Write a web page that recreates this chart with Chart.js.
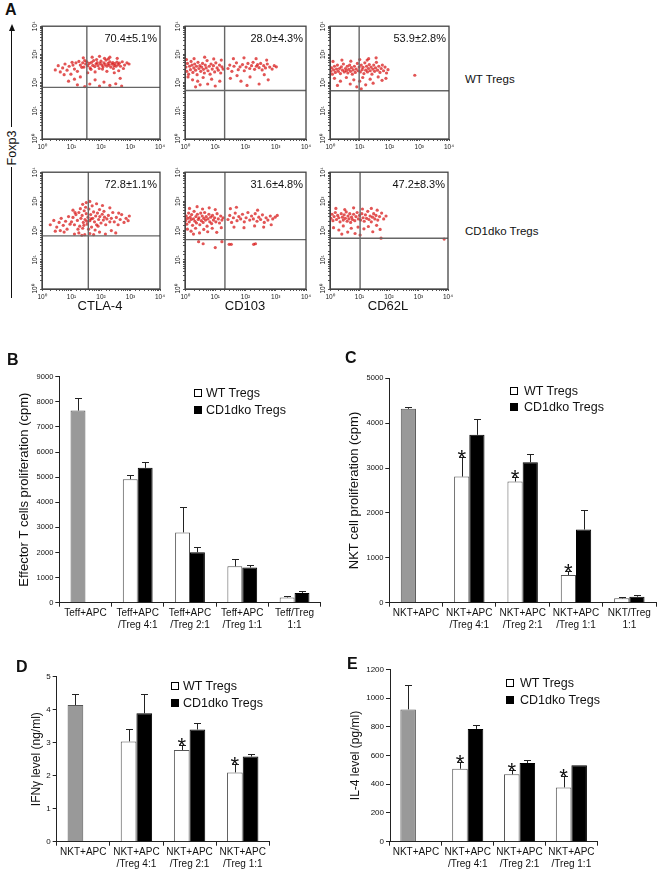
<!DOCTYPE html>
<html>
<head>
<meta charset="utf-8">
<title>Treg phenotype and suppression</title>
<script src="https://cdn.jsdelivr.net/npm/chart.js"></script>
<style>
  body { margin: 0; background: #fff; }
  #fig { position: relative; width: 662px; height: 872px; overflow: hidden;
         font-family: "Liberation Sans", Arial, sans-serif; color: #111; }
  #fig canvas { position: absolute; }
  .t { position: absolute; white-space: nowrap; line-height: 1; }
  .sq { position: absolute; width: 8px; height: 8px; box-sizing: border-box; border: 1px solid #000; }
</style>
</head>
<body>
<div id="fig"></div>
<script>
var FONT = '"Liberation Sans", Arial, sans-serif';

// ---------- panel A (flow cytometry, log10 fluorescence) ----------
var markers = ['CTLA-4', 'CD103', 'CD62L'];
var groups = ['WT Tregs', 'CD1dko Tregs'];
var pctLabels = ['70.4±5.1%', '28.0±4.3%', '53.9±2.8%', '72.8±1.1%', '31.6±4.8%', '47.2±8.3%'];
var gateX = [1.52, 1.31, 0.98, 1.57, 1.32, 1.02];
var gateY = [1.83, 1.72, 1.71, 1.82, 1.69, 1.74];

var wtCTLA4 = [
  [1.30,2.62],[1.38,2.70],[1.42,2.55],[1.48,2.66],[1.52,2.74],[1.55,2.60],[1.60,2.68],[1.63,2.52],[1.68,2.72],[1.72,2.61],
  [1.75,2.78],[1.79,2.57],[1.83,2.66],[1.87,2.71],[1.90,2.60],[1.94,2.50],[1.97,2.68],[2.00,2.76],[2.03,2.62],[2.07,2.56],
  [2.10,2.70],[2.14,2.64],[2.17,2.80],[2.20,2.58],[2.24,2.68],[2.27,2.62],[2.30,2.74],[2.33,2.55],[2.37,2.66],[2.40,2.71],
  [2.44,2.60],[2.47,2.67],[2.51,2.58],[2.54,2.73],[2.58,2.64],[2.62,2.69],[2.66,2.58],[1.45,2.78],[1.85,2.82],[2.25,2.84],
  [2.05,2.48],[1.66,2.47],[2.42,2.50],[1.35,2.54],[2.12,2.86],
  [0.45,2.45],[0.55,2.60],[0.62,2.38],[0.70,2.52],[0.78,2.66],[0.85,2.44],[0.92,2.58],[0.98,2.30],[1.05,2.62],[1.10,2.48],
  [1.15,2.70],[1.20,2.40],[1.25,2.75],[1.02,2.72],[0.75,2.28],[1.40,2.88],[1.70,2.90],[1.95,2.93],[2.30,2.90],[2.55,2.86],
  [2.72,2.74],[2.80,2.62],[2.88,2.70],[2.95,2.66],[2.76,2.50],[2.60,2.42],[1.55,2.35],[1.80,2.38],[2.20,2.40],[2.45,2.35],
  [0.90,2.05],[1.10,2.12],[1.30,2.20],[1.45,1.86],[1.62,1.95],[1.80,2.10],[1.95,1.88],[2.10,2.02],[2.30,1.90],[2.50,1.96],
  [2.65,2.15],[2.70,1.88],[1.20,1.92]
];
var wtCD103 = [
  [0.03,2.55],[0.06,2.40],[0.08,2.68],[0.12,2.30],[0.15,2.58],[0.18,2.46],[0.20,2.75],[0.23,2.62],[0.26,2.36],[0.29,2.52],
  [0.32,2.66],[0.35,2.44],[0.38,2.58],[0.40,2.28],[0.43,2.72],[0.46,2.50],[0.49,2.60],[0.52,2.40],[0.55,2.55],[0.58,2.68],
  [0.61,2.47],[0.64,2.34],[0.67,2.62],[0.70,2.52],[0.73,2.78],[0.76,2.42],[0.80,2.58],[0.83,2.30],[0.86,2.66],[0.90,2.48],
  [0.94,2.60],[0.98,2.38],[1.02,2.70],[1.06,2.52],[1.10,2.44],[1.14,2.62],[1.18,2.34],[1.22,2.56],[1.26,2.48],
  [0.10,2.20],[0.25,2.10],[0.42,2.05],[0.60,2.18],[0.75,1.95],[0.88,2.12],[1.00,1.88],[1.15,2.05],[0.35,1.85],[0.50,1.92],
  [0.65,2.90],[0.30,2.85],[0.95,2.84],[1.20,2.80],[0.05,2.82],
  [1.42,2.50],[1.48,2.62],[1.55,2.40],[1.62,2.58],[1.70,2.70],[1.76,2.46],[1.82,2.56],[1.90,2.64],[1.96,2.42],[2.02,2.55],
  [2.08,2.68],[2.14,2.50],[2.20,2.60],[2.25,2.72],[2.30,2.47],[2.36,2.58],[2.40,2.64],[2.45,2.53],[2.50,2.68],[2.55,2.45],
  [2.60,2.60],[2.66,2.52],[2.72,2.66],[2.80,2.55],[2.88,2.48],[2.95,2.60],[3.02,2.56],
  [1.60,2.85],[1.95,2.88],[2.35,2.85],[2.70,2.80],[1.50,2.15],[1.85,2.05],[2.15,2.20],[2.45,1.95],[2.75,2.10],[2.62,2.28],
  [1.72,2.25],[2.05,1.90]
];
var wtCD62L = [
  [0.02,2.40],[0.05,2.52],[0.08,2.30],[0.12,2.45],[0.15,2.58],[0.18,2.36],[0.22,2.48],[0.25,2.62],[0.28,2.40],[0.32,2.50],
  [0.35,2.32],[0.38,2.56],[0.42,2.44],[0.45,2.66],[0.48,2.38],[0.52,2.50],[0.55,2.42],[0.58,2.58],[0.60,2.34],[0.63,2.47],
  [0.66,2.62],[0.69,2.40],[0.72,2.53],[0.75,2.30],[0.78,2.45],[0.82,2.58],[0.85,2.36],[0.88,2.48],[0.92,2.68],[0.95,2.42],
  [0.98,2.55],[1.02,2.38],[1.05,2.62],[1.08,2.46],[1.11,2.54],[1.14,2.32],[1.17,2.70],[1.20,2.44],[1.23,2.58],[1.26,2.38],
  [1.29,2.50],[1.32,2.64],[1.35,2.42],[1.38,2.55],[1.41,2.30],[1.44,2.48],[1.47,2.62],[1.50,2.40],[1.53,2.52],[1.56,2.72],
  [1.60,2.44],[1.64,2.58],[1.68,2.36],[1.72,2.50],[1.76,2.62],[1.80,2.42],[1.85,2.55],[1.90,2.34],[1.95,2.46],
  [0.10,2.75],[0.40,2.80],[0.70,2.76],[1.00,2.82],[1.30,2.85],[1.55,2.88],[1.25,2.80],
  [0.15,2.15],[0.35,2.05],[0.55,2.18],[0.68,1.95],[0.80,2.10],[0.90,1.85],[1.00,2.05],[1.10,2.18],[1.20,1.92],[1.35,2.12],
  [1.45,1.98],[1.62,2.20],[1.75,2.08],[1.88,2.15],[0.25,1.90],[1.05,1.78],
  [2.85,2.26]
];
var koCTLA4 = [
  [1.00,2.30],[1.05,2.45],[1.10,2.20],[1.15,2.55],[1.20,2.35],[1.25,2.62],[1.28,2.15],[1.32,2.42],[1.36,2.52],[1.40,2.28],
  [1.43,2.68],[1.46,2.38],[1.50,2.58],[1.53,2.22],[1.56,2.46],[1.59,2.74],[1.62,2.34],[1.65,2.55],[1.68,2.12],[1.72,2.42],
  [1.75,2.64],[1.78,2.30],[1.82,2.50],[1.85,2.20],[1.88,2.60],[1.92,2.38],[1.96,2.48],[2.00,2.26],[2.04,2.56],[2.08,2.36],
  [2.12,2.46],[2.16,2.20],[2.20,2.40],[2.25,2.52],[2.30,2.30],[2.35,2.42],[1.38,2.08],[1.58,2.05],[1.80,2.02],[1.48,2.80],
  [1.70,2.85],[1.30,2.75],[1.95,2.72],[1.12,2.62],[2.10,2.66],[1.22,2.05],[1.42,2.18],[1.66,2.40],[1.52,2.32],[1.90,2.15],
  [0.28,2.20],[0.40,2.35],[0.50,2.12],[0.58,2.28],[0.65,2.42],[0.72,2.18],[0.80,2.32],[0.85,2.05],[0.90,2.48],[0.95,2.22],
  [0.62,2.00],[0.75,1.95],[0.45,1.98],
  [2.45,2.30],[2.52,2.45],[2.58,2.20],[2.65,2.38],[2.70,2.55],[2.78,2.28],[2.85,2.42],[2.92,2.34],[2.96,2.50],[2.60,2.60],
  [2.40,2.62],[1.50,2.96],[1.62,3.00],[1.38,2.90],[1.85,2.92],[2.05,2.86],[2.30,2.78],[1.05,2.70],
  [1.10,1.88],[1.25,1.92],[1.45,1.86],[1.62,1.90],[1.75,1.86],[1.95,1.95],[2.15,1.88],[2.35,2.00],[2.50,1.92],[1.35,1.84]
];
var koCD103 = [
  [0.02,2.35],[0.04,2.50],[0.06,2.22],[0.09,2.42],[0.12,2.60],[0.14,2.30],[0.17,2.46],[0.20,2.38],[0.22,2.55],[0.25,2.18],
  [0.28,2.40],[0.30,2.66],[0.33,2.32],[0.36,2.48],[0.38,2.26],[0.41,2.56],[0.44,2.38],[0.46,2.44],[0.49,2.20],[0.52,2.60],
  [0.54,2.34],[0.57,2.50],[0.60,2.28],[0.62,2.42],[0.65,2.62],[0.68,2.36],[0.70,2.48],[0.73,2.15],[0.76,2.40],[0.79,2.56],
  [0.82,2.30],[0.85,2.46],[0.88,2.24],[0.91,2.52],[0.94,2.36],[0.98,2.44],[1.02,2.30],[1.06,2.58],[1.10,2.40],[1.14,2.26],
  [1.18,2.50],[1.22,2.36],[1.26,2.44],
  [0.08,2.05],[0.20,1.98],[0.35,2.08],[0.48,1.92],[0.62,2.04],[0.75,1.96],[0.90,2.08],[1.05,1.94],[1.20,2.10],[0.15,2.76],
  [0.40,2.82],[0.58,2.74],[0.80,2.78],[1.00,2.72],[0.28,1.88],
  [1.42,2.38],[1.48,2.52],[1.54,2.28],[1.60,2.44],[1.66,2.60],[1.72,2.34],[1.78,2.48],[1.84,2.40],[1.90,2.56],[1.96,2.30],
  [2.02,2.44],[2.08,2.62],[2.14,2.36],[2.20,2.50],[2.26,2.40],[2.32,2.58],[2.38,2.32],[2.44,2.46],[2.50,2.38],[2.56,2.54],
  [2.62,2.28],[2.68,2.44],[2.74,2.36],[2.82,2.50],[2.90,2.40],[2.98,2.46],[3.05,2.52],
  [1.50,2.75],[1.70,2.80],[2.40,2.70],[1.62,2.12],[1.95,2.10],[2.30,2.16],[2.60,2.12],[2.85,2.20],
  [1.46,1.53],[1.53,1.53],[2.27,1.53],[2.33,1.55],[0.60,1.55],[1.00,1.42],[1.22,1.62],[0.45,1.62]
];
var koCD62L = [
  [0.03,2.42],[0.07,2.56],[0.10,2.34],[0.14,2.48],[0.18,2.62],[0.22,2.38],[0.26,2.52],[0.30,2.44],[0.34,2.30],[0.38,2.58],
  [0.42,2.46],[0.45,2.36],[0.48,2.54],[0.52,2.42],[0.55,2.64],[0.58,2.32],[0.61,2.50],[0.64,2.40],[0.67,2.58],[0.70,2.28],
  [0.73,2.46],[0.76,2.38],[0.80,2.56],[0.84,2.34],[0.88,2.48],[0.92,2.62],[0.96,2.40],[1.00,2.52],
  [1.04,2.36],[1.08,2.58],[1.12,2.44],[1.16,2.32],[1.20,2.54],[1.24,2.42],[1.28,2.66],[1.32,2.38],[1.36,2.50],[1.40,2.30],
  [1.44,2.46],[1.48,2.58],[1.52,2.40],[1.56,2.52],[1.62,2.36],[1.68,2.48],[1.75,2.60],[1.82,2.40],[1.90,2.50],
  [0.20,2.76],[0.50,2.72],[0.80,2.78],[1.10,2.74],[1.40,2.76],[1.60,2.70],
  [0.12,2.10],[0.30,2.02],[0.45,2.16],[0.60,1.95],[0.72,2.08],[0.85,1.90],[0.95,2.12],[1.02,1.85],[1.15,2.06],[1.30,2.14],
  [1.45,1.96],[1.58,2.18],[1.70,2.04],[0.40,1.88],
  [1.73,1.74],[3.87,1.71]
];

// ---------- panel B: effector T cell proliferation (cpm) ----------
var catsB = [['Teff+APC'], ['Teff+APC', '/Treg 4:1'], ['Teff+APC', '/Treg 2:1'], ['Teff+APC', '/Treg 1:1'], ['Teff/Treg', '1:1']];
var ctrlB = [7650, null, null, null, null];
var ctrlErrB = [500, 0, 0, 0, 0];
var wtB = [null, 4920, 2800, 1450, 210];
var wtErrB = [0, 180, 1030, 300, 60];
var koB = [null, 5370, 2010, 1400, 390];
var koErrB = [0, 250, 190, 100, 80];
var starsB = [0, 0, 0, 0, 0];

// ---------- panel C: NKT cell proliferation (cpm) ----------
var catsC = [['NKT+APC'], ['NKT+APC', '/Treg 4:1'], ['NKT+APC', '/Treg 2:1'], ['NKT+APC', '/Treg 1:1'], ['NKT/Treg', '1:1']];
var ctrlC = [4320, null, null, null, null];
var ctrlErrC = [30, 0, 0, 0, 0];
var wtC = [null, 2810, 2700, 617, 97];
var wtErrC = [0, 440, 110, 100, 25];
var koC = [null, 3740, 3130, 1630, 134];
var koErrC = [0, 350, 185, 430, 30];
var starsC = [0, 1, 1, 1, 0];

// ---------- panel D: IFNγ (ng/ml) ----------
var catsD = [['NKT+APC'], ['NKT+APC', '/Treg 4:1'], ['NKT+APC', '/Treg 2:1'], ['NKT+APC', '/Treg 1:1']];
var ctrlD = [4.14, null, null, null];
var ctrlErrD = [0.33, 0, 0, 0];
var wtD = [null, 3.04, 2.78, 2.10];
var wtErrD = [0, 0.38, 0.15, 0.25];
var koD = [null, 3.89, 3.40, 2.58];
var koErrD = [0, 0.60, 0.19, 0.09];
var starsD = [0, 0, 1, 1];

// ---------- panel E: IL-4 (pg/ml) ----------
var catsE = catsD;
var ctrlE = [921, null, null, null];
var ctrlErrE = [167, 0, 0, 0];
var wtE = [null, 508, 469, 378];
var wtErrE = [0, 44, 28, 79];
var koE = [null, 785, 548, 532];
var koErrE = [0, 25, 18, 0];
var starsE = [0, 1, 1, 1];

var fig = document.getElementById('fig');

function addCanvas(l, t, w, h) {
  var c = document.createElement('canvas');
  c.width = w; c.height = h;
  c.style.left = l + 'px'; c.style.top = t + 'px';
  c.style.width = w + 'px'; c.style.height = h + 'px';
  fig.appendChild(c);
  return c;
}

function text(str, x, y, size, extra) {
  var d = document.createElement('div');
  d.className = 't';
  d.textContent = str;
  d.style.left = x + 'px'; d.style.top = y + 'px'; d.style.fontSize = size + 'px';
  if (extra) Object.assign(d.style, extra);
  fig.appendChild(d);
  return d;
}

var SUP = ['\u2070', '\u00b9', '\u00b2', '\u00b3', '\u2074'];
function decade(v) {
  var l = Math.log10(v);
  if (Math.abs(l - Math.round(l)) < 1e-9) return '10' + SUP[Math.round(l)];
  return '';
}

// frame, quadrant gates, percentage and rotated y labels for the dot plots
var flowDecor = {
  id: 'flowDecor',
  afterDraw: function (chart, args, o) {
    var ctx = chart.ctx, a = chart.chartArea, sx = chart.scales.x, sy = chart.scales.y;
    ctx.save();
    ctx.strokeStyle = '#666'; ctx.lineWidth = 1.4;
    var gx = sx.getPixelForValue(Math.pow(10, o.gx));
    var gy = sy.getPixelForValue(Math.pow(10, o.gy));
    ctx.beginPath();
    ctx.moveTo(gx, a.top); ctx.lineTo(gx, a.bottom);
    ctx.moveTo(a.left, gy); ctx.lineTo(a.right, gy);
    ctx.stroke();
    ctx.strokeStyle = '#444'; ctx.lineWidth = 1.3;
    ctx.strokeRect(a.left, a.top, a.right - a.left, a.bottom - a.top);
    ctx.fillStyle = '#111';
    ctx.font = '11px ' + FONT;
    ctx.textAlign = 'right'; ctx.textBaseline = 'middle';
    ctx.fillText(o.pct, a.right - 3, a.top + 13);
    ctx.font = '6.5px ' + FONT;
    ctx.textAlign = 'center';
    for (var k = 0; k <= 4; k++) {
      var y = sy.getPixelForValue(Math.pow(10, k));
      ctx.save();
      ctx.translate(a.left - 7, y);
      ctx.rotate(-Math.PI / 2);
      ctx.fillText('10' + SUP[k], 0, 0);
      ctx.restore();
    }
    ctx.restore();
  }
};

var flowPlots = [
  { pts: wtCTLA4, frame: [42, 21.5, 160, 139] },
  { pts: wtCD103, frame: [184.5, 21.5, 306, 139] },
  { pts: wtCD62L, frame: [329.5, 21.5, 448.5, 139] },
  { pts: koCTLA4, frame: [42, 167.5, 160, 288.5] },
  { pts: koCD103, frame: [184.5, 167.5, 305.5, 288.5] },
  { pts: koCD62L, frame: [329.5, 167.5, 448, 288.5] }
];

flowPlots.forEach(function (p, i) {
  var f = p.frame;
  var cv = addCanvas(f[0] - 16, f[1] - 6, f[2] - f[0] + 24, f[3] - f[1] + 20);
  new Chart(cv, {
    type: 'scatter',
    data: {
      datasets: [{
        data: p.pts.map(function (d) { return { x: Math.pow(10, d[0]), y: Math.pow(10, d[1]) }; }),
        pointRadius: 1.6,
        backgroundColor: 'rgba(215,20,20,0.72)',
        borderWidth: 0
      }]
    },
    options: {
      responsive: false, animation: false, devicePixelRatio: 1,
      layout: { padding: { top: 6, right: 8, left: 0, bottom: 0 } },
      plugins: {
        legend: { display: false }, tooltip: { enabled: false },
        flowDecor: { gx: gateX[i], gy: gateY[i], pct: pctLabels[i] }
      },
      scales: {
        x: {
          type: 'logarithmic', min: 1, max: 10000,
          afterFit: function (s) { s.height = 14; },
          border: { color: '#444', width: 1 },
          grid: { drawOnChartArea: false, tickLength: 2, color: '#555' },
          ticks: { autoSkip: false, maxRotation: 0, padding: 2, color: '#222',
                   font: { size: 6.5, family: FONT }, callback: decade }
        },
        y: {
          type: 'logarithmic', min: 1, max: 10000,
          afterFit: function (s) { s.width = 16; },
          border: { color: '#444', width: 1 },
          grid: { drawOnChartArea: false, tickLength: 2, color: '#555' },
          ticks: { autoSkip: false, callback: function () { return ''; } }
        }
      }
    },
    plugins: [flowDecor]
  });
});

// panel A texts
text('A', 5, 10, 16, { fontWeight: 'bold', transform: 'translateY(-50%)' });
text('Foxp3', 12, 148, 12.5, { transform: 'translate(-50%,-50%) rotate(-90deg)' });
var up = document.createElement('div');
up.style.cssText = 'position:absolute;left:11px;top:30px;width:0;height:97px;border-left:1px solid #111;';
fig.appendChild(up);
var head = document.createElement('div');
head.style.cssText = 'position:absolute;left:8.5px;top:24px;width:0;height:0;border-left:3px solid transparent;border-right:3px solid transparent;border-bottom:7px solid #111;';
fig.appendChild(head);
var down = document.createElement('div');
down.style.cssText = 'position:absolute;left:11px;top:167px;width:0;height:131px;border-left:1px solid #111;';
fig.appendChild(down);
[100, 245, 388].forEach(function (x, k) {
  text(markers[k], x, 305, 13, { transform: 'translate(-50%,-50%)' });
});
text(groups[0], 465, 80, 11.5, { transform: 'translateY(-50%)' });
text(groups[1], 465, 232, 11.5, { transform: 'translateY(-50%)' });

// error bars and significance stars
var errBars = {
  id: 'errBars',
  afterDatasetsDraw: function (chart, args, o) {
    var ctx = chart.ctx, sy = chart.scales.y;
    ctx.save();
    ctx.strokeStyle = '#222'; ctx.lineWidth = 1;
    chart.data.datasets.forEach(function (ds, d) {
      chart.getDatasetMeta(d).data.forEach(function (el, i) {
        var v = ds.data[i];
        if (v === null) return;
        var e = o.errs[d][i];
        var top = sy.getPixelForValue(v + e);
        var x = Math.round(el.x) + 0.5;
        if (e > 0) {
          var ty = Math.round(top) + 0.5;
          ctx.beginPath();
          ctx.moveTo(x, el.y); ctx.lineTo(x, ty);
          ctx.moveTo(x - 3.5, ty); ctx.lineTo(x + 3.5, ty);
          ctx.stroke();
        }
        if (d === 0 && o.stars[i]) {
          ctx.fillStyle = '#111';
          ctx.font = '22px ' + FONT;
          ctx.textAlign = 'center'; ctx.textBaseline = 'alphabetic';
          ctx.fillText('*', el.x, top + 8);
        }
      });
    });
    ctx.restore();
  }
};

function barPanel(o) {
  var cv = addCanvas(o.box[0], o.box[1], o.box[2], o.box[3]);
  var left = o.ctrl.map(function (v, i) { return v !== null ? v : o.wt[i]; });
  var leftErr = o.ctrl.map(function (v, i) { return v !== null ? o.ctrlErr[i] : o.wtErr[i]; });
  new Chart(cv, {
    type: 'bar',
    data: {
      labels: o.cats,
      datasets: [{
        data: left,
        backgroundColor: o.ctrl.map(function (v) { return v !== null ? '#999999' : '#ffffff'; }),
        borderColor: '#555', borderWidth: 1,
        categoryPercentage: o.cp, barPercentage: 1
      }, {
        data: o.ko,
        backgroundColor: '#000', borderColor: '#000', borderWidth: 1,
        categoryPercentage: o.cp, barPercentage: 1
      }]
    },
    options: {
      responsive: false, animation: false, devicePixelRatio: 1,
      layout: { padding: { top: o.area.top, right: o.area.right, left: 0, bottom: 0 } },
      plugins: {
        legend: { display: false }, tooltip: { enabled: false },
        errBars: { errs: [leftErr, o.koErr], stars: o.stars }
      },
      scales: {
        x: {
          afterFit: function (s) { s.height = o.area.xh; },
          border: { color: '#222' },
          grid: { offset: true, drawOnChartArea: false, tickLength: 4, color: '#222' },
          ticks: { font: { size: 10, family: FONT }, color: '#111', padding: 1, maxRotation: 0, autoSkip: false }
        },
        y: {
          min: 0, max: o.max,
          afterFit: function (s) { s.width = o.area.left; },
          border: { color: '#222' },
          grid: { drawOnChartArea: false, tickLength: 4, color: '#222' },
          ticks: { stepSize: o.step, font: { size: o.tickSize, family: FONT }, color: '#111', padding: 2,
                   callback: function (v) { return String(v); } },
          title: { display: true, text: o.title, color: '#111',
                   font: { size: o.titleSize, family: FONT }, padding: { top: o.titlePad, bottom: 0 } }
        }
      }
    },
    plugins: [errBars]
  });
}

function legend(sqX, txtX, y1, y2) {
  var a = document.createElement('div');
  a.className = 'sq'; a.style.left = sqX + 'px'; a.style.top = (y1 - 4) + 'px'; a.style.background = '#fff';
  fig.appendChild(a);
  var b = document.createElement('div');
  b.className = 'sq'; b.style.left = sqX + 'px'; b.style.top = (y2 - 4) + 'px'; b.style.background = '#000';
  fig.appendChild(b);
  text(groups[0], txtX, y1, 12.5, { transform: 'translateY(-50%)' });
  text(groups[1], txtX, y2, 12.5, { transform: 'translateY(-50%)' });
}

barPanel({ box: [0, 355, 330, 285], area: { left: 59.3, top: 21.7, right: 9.3, xh: 37.3 },
  cats: catsB, ctrl: ctrlB, ctrlErr: ctrlErrB, wt: wtB, wtErr: wtErrB, ko: koB, koErr: koErrB, stars: starsB,
  max: 9000, step: 1000, tickSize: 7.5, cp: 0.57,
  title: 'Effector T cells proliferation (cpm)', titleSize: 13, titlePad: 17 });
barPanel({ box: [330, 355, 332, 285], area: { left: 59.3, top: 23.3, right: 6, xh: 37.3 },
  cats: catsC, ctrl: ctrlC, ctrlErr: ctrlErrC, wt: wtC, wtErr: wtErrC, ko: koC, koErr: koErrC, stars: starsC,
  max: 5000, step: 1000, tickSize: 7.5, cp: 0.57,
  title: 'NKT cell proliferation (cpm)', titleSize: 13, titlePad: 17 });
barPanel({ box: [0, 655, 330, 217], area: { left: 56.7, top: 21.7, right: 60.7, xh: 30.3 },
  cats: catsD, ctrl: ctrlD, ctrlErr: ctrlErrD, wt: wtD, wtErr: wtErrD, ko: koD, koErr: koErrD, stars: starsD,
  max: 5, step: 1, tickSize: 8, cp: 0.59,
  title: 'IFN\u03b3 level (ng/ml)', titleSize: 12, titlePad: 29 });
barPanel({ box: [330, 655, 332, 217], area: { left: 60, top: 14.3, right: 64.7, xh: 30.3 },
  cats: catsE, ctrl: ctrlE, ctrlErr: ctrlErrE, wt: wtE, wtErr: wtErrE, ko: koE, koErr: koErrE, stars: starsE,
  max: 1200, step: 200, tickSize: 8, cp: 0.6,
  title: 'IL-4 level (pg/ml)', titleSize: 12, titlePad: 18 });

text('B', 7, 360, 16, { fontWeight: 'bold', transform: 'translateY(-50%)' });
text('C', 345, 358, 16, { fontWeight: 'bold', transform: 'translateY(-50%)' });
text('D', 16, 667, 16, { fontWeight: 'bold', transform: 'translateY(-50%)' });
text('E', 347, 664, 16, { fontWeight: 'bold', transform: 'translateY(-50%)' });

legend(194, 206, 393, 410);
legend(510, 524, 391, 407);
legend(171, 183, 686, 703);
legend(506, 520, 683, 700);
</script>
</body>
</html>
